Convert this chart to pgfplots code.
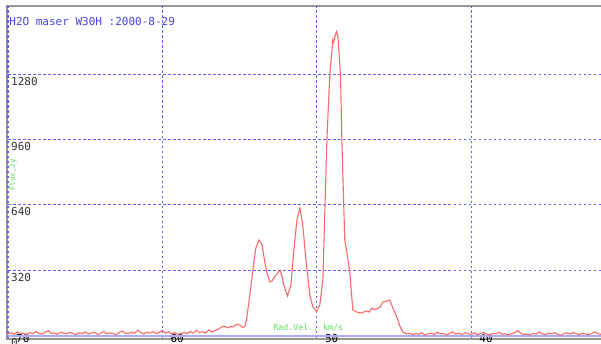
\documentclass[border=0pt]{standalone}
\usepackage{fontspec}
\setmonofont{DejaVu Sans Mono}
\usepackage{pgfplots}
\pgfplotsset{compat=1.18}
\definecolor{gridblue}{RGB}{95,95,235}
\definecolor{zeroblue}{RGB}{170,170,245}
\definecolor{curvered}{RGB}{250,105,105}
\definecolor{labgreen}{RGB}{90,225,90}
\definecolor{titleblue}{RGB}{70,70,225}
\definecolor{framegray}{RGB}{150,150,150}
\begin{document}
\begin{tikzpicture}[x=1pt,y=1pt]
\useasboundingbox (0,0) rectangle (601,343);
\fill[white] (0,0) rectangle (601,343);
\draw[framegray, line width=2.5pt] (5.5,336.8) -- (602,336.8);
\draw[framegray, line width=2.5pt] (5.5,4.2) -- (602,4.2);
\draw[framegray, line width=2pt] (6.8,3) -- (6.8,338);
\begin{axis}[at={(8pt,5pt)}, anchor=south west, scale only axis,
  width=593pt, height=332pt,
  x dir=reverse, xmin=31.6, xmax=70, ymin=-12, ymax=1614,
  xtick={40,50,60,70}, ytick={0,320,640,960,1280},
  major tick length=0pt,
  axis line style={draw=none},
  clip=false,
  grid=major,
  major grid style={gridblue, line width=1.1pt, dash pattern=on 2.5pt off 2.5pt},
  /pgf/number format/assume math mode=true,
  /pgf/number format/1000 sep={},
  ticklabel style={font=\ttfamily\fontsize{11}{11}\selectfont, inner sep=1pt},
  xticklabel style={anchor=west, xshift=7pt, text=black},
  yticklabel style={anchor=north west, xshift=2pt, yshift=-1.5pt, text=black!80},
]
\addplot[zeroblue, line width=2pt, forget plot] coordinates {(31.6,0) (70,0)};
\addplot[curvered, line width=1.1pt, no markers] coordinates {
(70.0,8) (69.8,14) (69.6,6) (69.4,18) (69.2,10) (69.0,12) (68.8,4) (68.6,15) (68.4,9) (68.2,20)
(68.0,11) (67.8,7) (67.6,16) (67.4,24) (67.2,10) (67.0,13) (66.8,6) (66.6,17) (66.4,12) (66.2,8)
(66.0,15) (65.8,10) (65.6,5) (65.4,14) (65.2,9) (65.0,18) (64.8,7) (64.6,12) (64.4,16) (64.2,6)
(64.0,11) (63.8,19) (63.6,8) (63.4,13) (63.2,10) (63.0,4) (62.8,15) (62.6,22) (62.4,12) (62.2,9)
(62.0,17) (61.8,11) (61.6,26) (61.4,14) (61.2,8) (61.0,16) (60.8,12) (60.6,20) (60.4,10) (60.2,15)
(60.0,25) (59.8,12) (59.6,18) (59.4,8) (59.2,14) (59.0,6) (58.8,10) (58.6,16) (58.4,9) (58.2,20)
(58.0,13) (57.8,26) (57.6,15) (57.4,19) (57.2,12) (57.0,28) (56.8,18) (56.6,24) (56.4,30) (56.2,40)
(56.0,46) (55.8,38) (55.6,44)
(55.44,42) (55.2,55) (54.98,51) (54.8,40) (54.66,44) (54.55,80) (54.47,125) (54.34,198) (54.14,321)
(53.95,429) (53.75,468) (53.56,448) (53.37,360) (53.2,300) (53.04,262) (52.9,268) (52.78,282)
(52.6,300) (52.39,321) (52.25,290) (52.14,247) (51.9,194) (51.68,247) (51.49,419) (51.29,566)
(51.10,625) (50.91,541) (50.71,370) (50.45,198) (50.26,140) (50.02,117) (49.81,149) (49.61,272)
(49.48,615) (49.35,957) (49.16,1281) (48.96,1448) (48.90,1438) (48.80,1475) (48.72,1489) (48.64,1468)
(48.47,1281) (48.38,957) (48.25,615) (48.19,468) (48.0,380) (47.86,306) (47.67,125) (47.41,115)
(47.09,110) (46.9,118) (46.76,120) (46.6,115) (46.44,135) (46.3,128) (46.12,130) (45.9,140)
(45.73,164) (45.47,169) (45.28,174) (45.02,125) (44.82,91) (44.63,47) (44.43,17)
(44.2,8) (44.0,12) (43.8,4) (43.6,10) (43.4,6) (43.2,14) (43.0,3) (42.8,9) (42.6,12) (42.4,5)
(42.2,16) (42.0,8) (41.8,10) (41.6,2) (41.4,11) (41.2,18) (41.0,7) (40.8,12) (40.6,5) (40.4,14)
(40.2,9) (40.0,6) (39.8,13) (39.6,4) (39.4,10) (39.2,15) (39.0,7) (38.8,3) (38.6,11) (38.4,8)
(38.2,16) (38.0,6) (37.8,9) (37.6,2) (37.4,10) (37.2,13) (37.0,24) (36.8,12) (36.6,5) (36.4,8)
(36.2,3) (36.0,11) (35.8,7) (35.6,17) (35.4,9) (35.2,4) (35.0,12) (34.8,8) (34.6,14) (34.4,6)
(34.2,2) (34.0,10) (33.8,13) (33.6,7) (33.4,15) (33.2,9) (33.0,5) (32.8,11) (32.6,8) (32.4,4)
(32.2,10) (32.0,18) (31.8,9) (31.6,6)
};
\node[anchor=west, text=titleblue, font=\ttfamily\fontsize{11}{11}\selectfont, inner sep=0pt]
  at (axis description cs:0.002,0.952) {H2O maser W30H :2000-8-29};
\node[anchor=west, text=labgreen, font=\ttfamily\fontsize{8.3}{8.3}\selectfont, inner sep=0pt]
  at (axis description cs:0.447,0.030) {Rad.Vel., km/s};
\node[rotate=90, text=labgreen, font=\ttfamily\fontsize{7.5}{7.5}\selectfont, inner sep=0pt]
  at (axis description cs:0.0084,0.491) {Flux,Jy};
\end{axis}
\end{tikzpicture}
\end{document}
